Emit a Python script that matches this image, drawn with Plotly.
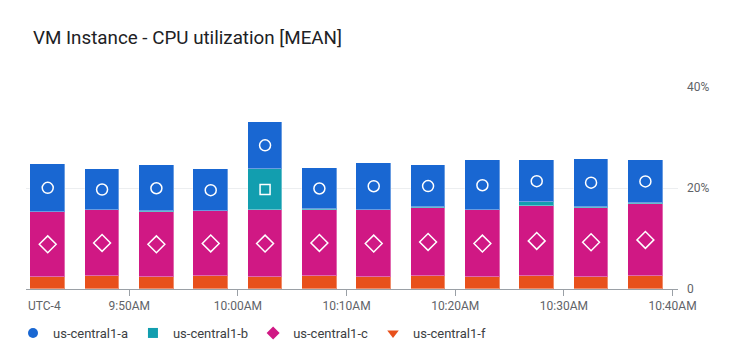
import plotly.graph_objects as go

# ---- data ----
times = ["2024-01-01 09:42:30", "2024-01-01 09:47:30", "2024-01-01 09:52:30",
         "2024-01-01 09:57:30", "2024-01-01 10:02:30", "2024-01-01 10:07:30",
         "2024-01-01 10:12:30", "2024-01-01 10:17:30", "2024-01-01 10:22:30",
         "2024-01-01 10:27:30", "2024-01-01 10:32:30", "2024-01-01 10:37:30"]
zone_f = [2.4, 2.65, 2.4, 2.65, 2.4, 2.65, 2.4, 2.65, 2.4, 2.65, 2.4, 2.65]
zone_c = [12.9, 12.95, 12.9, 12.75, 13.2, 12.95, 13.2, 13.35, 13.2, 13.75, 13.7, 14.15]
zone_b = [0.0, 0.0, 0.1, 0.05, 8.2, 0.2, 0.1, 0.25, 0.0, 0.8, 0.2, 0.3]
zone_a = [9.45, 8.2, 9.1, 8.25, 9.3, 8.2, 9.3, 8.25, 9.9, 8.3, 9.5, 8.4]

series_names = ["us-central1-a", "us-central1-b", "us-central1-c", "us-central1-f"]
y_tick_vals = [0, 20, 40]
y_tick_text = ["0", "20%", "40%"]

# ---- style ----
colors = {"us-central1-a": "#1967d2", "us-central1-b": "#129eaf",
          "us-central1-c": "#d01884", "us-central1-f": "#e8501b"}
legend_symbols = {"us-central1-a": "circle", "us-central1-b": "square",
                  "us-central1-c": "diamond", "us-central1-f": "triangle-down"}
inner_symbols = {"us-central1-a": "circle-open", "us-central1-b": "square-open",
                 "us-central1-c": "diamond-open", "us-central1-f": "triangle-down-open"}
inner_sizes = {"us-central1-a": 11, "us-central1-b": 10,
               "us-central1-c": 13, "us-central1-f": 10}
FONT = "Roboto, Arial, sans-serif"
BAR_WIDTH_MS = 191000
MARKER_MIN = 4.0  # segments thinner than this get no inner marker

fig = go.Figure()

stack_order = [("us-central1-f", zone_f), ("us-central1-c", zone_c),
               ("us-central1-b", zone_b), ("us-central1-a", zone_a)]

base = [0.0] * len(times)
for name, vals in stack_order:
    fig.add_trace(go.Bar(
        x=times, y=vals, name=name, showlegend=False,
        width=[BAR_WIDTH_MS] * len(times),
        marker=dict(color=colors[name], line=dict(color="rgba(255,255,255,0.35)", width=1)),
    ))
    mx, my = [], []
    for t, b, v in zip(times, base, vals):
        if v >= MARKER_MIN:
            mx.append(t)
            my.append(b + v / 2)
    if mx:
        fig.add_trace(go.Scatter(
            x=mx, y=my, mode="markers", showlegend=False, hoverinfo="skip",
            marker=dict(symbol=inner_symbols[name], size=inner_sizes[name],
                        color="white", line=dict(color="white", width=1.5)),
        ))
    base = [b + v for b, v in zip(base, vals)]

# legend entries
for name in series_names:
    fig.add_trace(go.Scatter(
        x=[None], y=[None], mode="markers", name=name,
        marker=dict(symbol=legend_symbols[name], color=colors[name], size=10),
    ))

fig.update_layout(
    width=750, height=361,
    barmode="stack", bargap=0,
    paper_bgcolor="white", plot_bgcolor="white",
    margin=dict(l=26, r=72, t=87, b=72, autoexpand=False),
    font=dict(family=FONT, size=12, color="#5f6368"),
    title=dict(text="VM Instance - CPU utilization [MEAN]",
               font=dict(family=FONT, size=18.8, color="#202124"),
               x=33 / 750, xanchor="left", xref="container",
               y=1 - 37 / 361, yanchor="middle", yref="container"),
    showlegend=True,
    legend=dict(orientation="h", xref="container", yref="container",
                x=13 / 750, xanchor="left", y=1 - 318 / 361, yanchor="top",
                font=dict(family=FONT, size=13, color="#3c4043"),
                itemclick=False, traceorder="normal"),
    xaxis=dict(type="date",
               range=["2024-01-01 09:40:30", "2024-01-01 10:40:30"],
               tick0="2024-01-01 09:50:00", dtick=600000,
               tickformat="%-I:%M%p",
               showgrid=False, showline=True, linecolor="#9aa0a6", linewidth=1,
               ticks="outside", ticklen=6, tickcolor="#9aa0a6",
               tickfont=dict(family=FONT, size=12, color="#5f6368")),
    yaxis=dict(side="right", range=[0, 40], tickvals=y_tick_vals, ticktext=y_tick_text,
               showgrid=True, gridcolor="#eceef0", gridwidth=1, zeroline=False,
               showline=False, ticks="", ticklabelstandoff=8,
               tickfont=dict(family=FONT, size=12, color="#5f6368")),
    annotations=[dict(text="UTC-4", x=0, xref="paper", xanchor="left",
                      y=-0.083, yref="paper", yanchor="middle", showarrow=False,
                      font=dict(family=FONT, size=12, color="#5f6368"))],
)

fig.write_html("out.html", config={"displayModeBar": False},
               post_script="document.body.style.margin='0';document.body.style.overflow='hidden';")
